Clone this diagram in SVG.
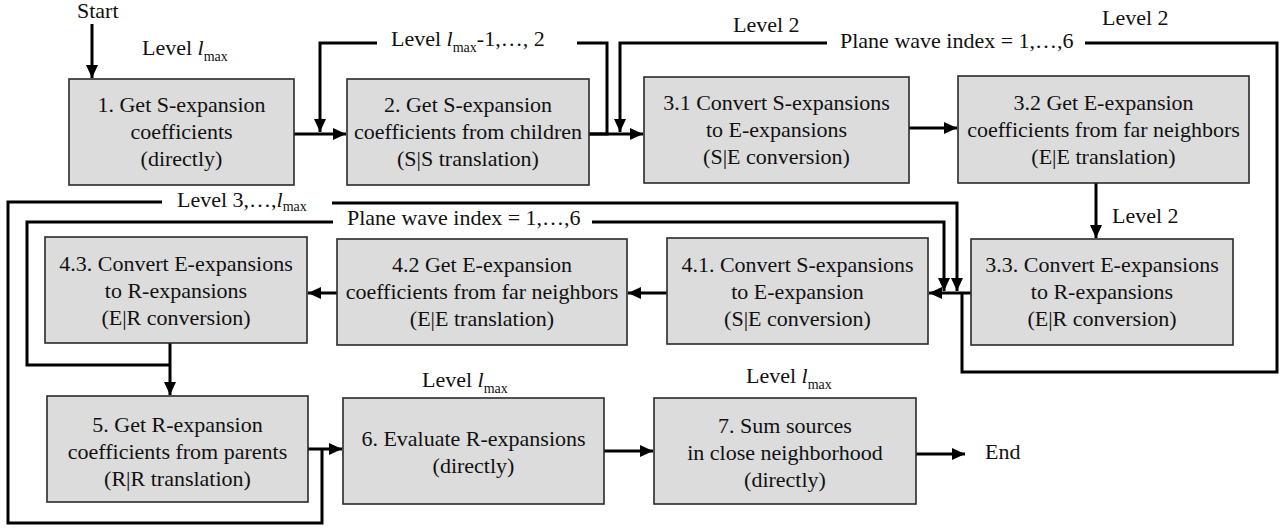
<svg xmlns="http://www.w3.org/2000/svg" width="1287" height="529" viewBox="0 0 1287 529">
<defs>
<marker id="ah" markerUnits="userSpaceOnUse" markerWidth="14" markerHeight="12" refX="13" refY="6" orient="auto">
<path d="M0,0 L13,6 L0,12 z" fill="#000"/>
</marker>
<style>
.box{fill:#dcdcdc;stroke:#2a2a2a;stroke-width:1.6}
.t{font-family:"Liberation Serif","Times New Roman",serif;font-size:22px;fill:#111;text-anchor:middle}
.lb{font-family:"Liberation Serif","Times New Roman",serif;font-size:22px;fill:#111}
.sub{font-size:14px}
.c{fill:none;stroke:#000;stroke-width:3}
.a{marker-end:url(#ah)}
</style>
</defs>
<rect width="1287" height="529" fill="#fff"/>

<g id="connectors">
<path class="c a" d="M92,24 V78"/>
<path class="c a" d="M294,134 H346"/>
<path class="c" d="M589,134 H607 V43 H577"/>
<path class="c a" d="M377,43 H320 V132"/>
<path class="c a" d="M589,134 H643"/>
<path class="c" d="M962,293 V372 H1277 V43 H1085"/>
<path class="c a" d="M827,43 H620 V132"/>
<path class="c a" d="M909,128 H957"/>
<path class="c a" d="M1096,183 V238"/>
<path class="c a" d="M971,293 H929"/>
<path class="c" d="M322,449 V523 H8 V202 H162"/>
<path class="c a" d="M332,203 H957 V291"/>
<path class="c" d="M170,365 H27 V222 H333"/>
<path class="c a" d="M592,222 H944 V291"/>
<path class="c a" d="M170,343 V395"/>
<path class="c a" d="M667,293 H628"/>
<path class="c a" d="M337,293 H308"/>
<path class="c a" d="M308,449 H342"/>
<path class="c a" d="M604,451 H653"/>
<path class="c a" d="M916,454 H965"/>
</g>

<g id="labels">
<text class="lb" x="77" y="18" font-size="21">Start</text>
<text class="lb" x="985" y="459">End</text>
<text class="lb" x="142" y="55">Level <tspan font-style="italic">l</tspan><tspan class="sub" dy="6">max</tspan></text>
<text class="lb" x="391" y="46">Level <tspan font-style="italic">l</tspan><tspan class="sub" dy="6">max</tspan><tspan dy="-6">-1,…, 2</tspan></text>
<text class="lb" x="733" y="32">Level 2</text>
<text class="lb" x="840" y="48">Plane wave index = 1,…,6</text>
<text class="lb" x="1102" y="25">Level 2</text>
<text class="lb" x="1112" y="223">Level 2</text>
<text class="lb" x="177" y="207">Level 3,…,<tspan font-style="italic">l</tspan><tspan class="sub" dy="4">max</tspan></text>
<text class="lb" x="347" y="225">Plane wave index = 1,…,6</text>
<text class="lb" x="422" y="387">Level <tspan font-style="italic">l</tspan><tspan class="sub" dy="6">max</tspan></text>
<text class="lb" x="746" y="383">Level <tspan font-style="italic">l</tspan><tspan class="sub" dy="6">max</tspan></text>
</g>

<g id="n1">
<rect class="box" x="69" y="79" width="225" height="106"/>
<text class="t" x="181.5" y="112">1. Get S-expansion</text>
<text class="t" x="181.5" y="139">coefficients</text>
<text class="t" x="181.5" y="166">(directly)</text>
</g>
<g id="n2">
<rect class="box" x="347" y="79" width="242" height="106"/>
<text class="t" x="468" y="112">2. Get S-expansion</text>
<text class="t" x="468" y="139">coefficients from children</text>
<text class="t" x="468" y="166">(S|S translation)</text>
</g>
<g id="n31">
<rect class="box" x="644" y="77" width="265" height="106"/>
<text class="t" x="776.5" y="110">3.1 Convert S-expansions</text>
<text class="t" x="776.5" y="137">to E-expansions</text>
<text class="t" x="776.5" y="164">(S|E conversion)</text>
</g>
<g id="n32">
<rect class="box" x="958" y="76" width="291" height="107"/>
<text class="t" x="1103.5" y="110">3.2 Get E-expansion</text>
<text class="t" x="1103.5" y="137">coefficients from far neighbors</text>
<text class="t" x="1103.5" y="164">(E|E translation)</text>
</g>
<g id="n33">
<rect class="box" x="971" y="239" width="262" height="106"/>
<text class="t" x="1102" y="272">3.3. Convert E-expansions</text>
<text class="t" x="1102" y="299">to R-expansions</text>
<text class="t" x="1102" y="326">(E|R conversion)</text>
</g>
<g id="n41">
<rect class="box" x="667" y="238" width="261" height="106"/>
<text class="t" x="797.5" y="272">4.1. Convert S-expansions</text>
<text class="t" x="797.5" y="299">to E-expansion</text>
<text class="t" x="797.5" y="326">(S|E conversion)</text>
</g>
<g id="n42">
<rect class="box" x="337" y="239" width="290" height="106"/>
<text class="t" x="482" y="272">4.2 Get E-expansion</text>
<text class="t" x="482" y="299">coefficients from far neighbors</text>
<text class="t" x="482" y="326">(E|E translation)</text>
</g>
<g id="n43">
<rect class="box" x="45" y="237" width="262" height="106"/>
<text class="t" x="176" y="271">4.3. Convert E-expansions</text>
<text class="t" x="176" y="298">to R-expansions</text>
<text class="t" x="176" y="325">(E|R conversion)</text>
</g>
<g id="n5">
<rect class="box" x="47" y="396" width="261" height="106"/>
<text class="t" x="177.5" y="432">5. Get R-expansion</text>
<text class="t" x="177.5" y="459">coefficients from parents</text>
<text class="t" x="177.5" y="486">(R|R translation)</text>
</g>
<g id="n6">
<rect class="box" x="343" y="398" width="261" height="106"/>
<text class="t" x="473.5" y="446">6. Evaluate R-expansions</text>
<text class="t" x="473.5" y="473">(directly)</text>
</g>
<g id="n7">
<rect class="box" x="654" y="398" width="262" height="106"/>
<text class="t" x="785" y="433">7. Sum sources</text>
<text class="t" x="785" y="460">in close neighborhood</text>
<text class="t" x="785" y="487">(directly)</text>
</g>
</svg>
